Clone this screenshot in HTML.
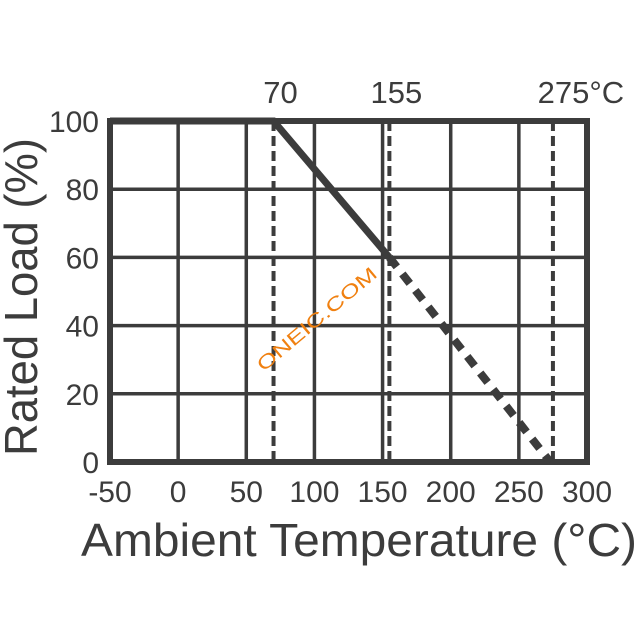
<!DOCTYPE html>
<html><head><meta charset="utf-8"><style>
html,body{margin:0;padding:0;background:#fff;}
svg{display:block;font-family:"Liberation Sans",sans-serif;}
</style></head><body>
<svg id="chart" width="640" height="640"></svg>
<script>
const xTicks=[-50,0,50,100,150,200,250,300];
const yTicks=[0,20,40,60,80,100];
const markerTemps=[70,155,275];
const markerLabels=["70","155","275°C"];
const solidX=[-50,70,155];
const solidY=[100,100,60];
const dashX=[155,273];
const dashY=[60,0];
const X0=110,X1=587,Y0=462,Y1=121;
const sx=v=>X0+(v+50)/350*(X1-X0);
const sy=v=>Y0-v/100*(Y0-Y1);
const svg=document.getElementById('chart');
const NS='http://www.w3.org/2000/svg';
function mk(tag,attrs,parent){const e=document.createElementNS(NS,tag);for(const k in attrs)e.setAttribute(k,attrs[k]);(parent||svg).appendChild(e);return e;}
const C='#3c3c3c';
xTicks.slice(1,-1).forEach(t=>{const l=mk('line',{x1:sx(t),x2:sx(t),y1:Y1,y2:Y0,stroke:C,'stroke-width':3.5});

});
yTicks.slice(1,-1).forEach(t=>{const l=mk('line',{x1:X0,x2:X1,y1:sy(t),y2:sy(t),stroke:C,'stroke-width':3.5});

});
markerTemps.forEach((t,i)=>{const l=mk('line',{x1:sx(t),x2:sx(t),y1:Y1,y2:Y0,stroke:C,'stroke-width':4,'stroke-dasharray':'10 5'});


const tx=mk('text',{x:sx(t)+(i==2?28:7),y:103,'text-anchor':'middle','font-size':31,fill:C});
tx.textContent=markerLabels[i];

});
const fr=mk('rect',{x:X0,y:Y1,width:X1-X0,height:Y0-Y1,fill:'none',stroke:C,'stroke-width':6});


const sp=mk('polyline',{points:solidX.map((x,i)=>sx(x)+','+sy(solidY[i])).join(' '),fill:'none',stroke:C,'stroke-width':7});


const dp=mk('polyline',{points:dashX.map((x,i)=>sx(x)+','+sy(dashY[i])).join(' '),fill:'none',stroke:C,'stroke-width':8,'stroke-dasharray':'12 9'});


xTicks.forEach(t=>{const tx=mk('text',{x:sx(t),y:502,'text-anchor':'middle','font-size':30,fill:C});
tx.textContent=String(t);

});
yTicks.forEach(t=>{const tx=mk('text',{x:99,y:sy(t)+11,'text-anchor':'end','font-size':30,fill:C});
tx.textContent=String(t);

});
const xt=mk('text',{x:359,y:556,'text-anchor':'middle','font-size':46,fill:C,textLength:556,lengthAdjust:'spacingAndGlyphs'});
xt.textContent='Ambient Temperature (°C)';


const yt=mk('text',{x:0,y:0,'text-anchor':'middle','font-size':46,fill:C,textLength:318,lengthAdjust:'spacingAndGlyphs',transform:'translate(37,297) rotate(-90)'});
yt.textContent='Rated Load (%)';


const wm=mk('text',{x:0,y:0,'text-anchor':'middle','font-size':19,fill:'#f08010',textLength:150,lengthAdjust:'spacingAndGlyphs',transform:'translate(321,324) rotate(-40)'});
wm.textContent='ONEIC.COM';


</script>
</body></html>
